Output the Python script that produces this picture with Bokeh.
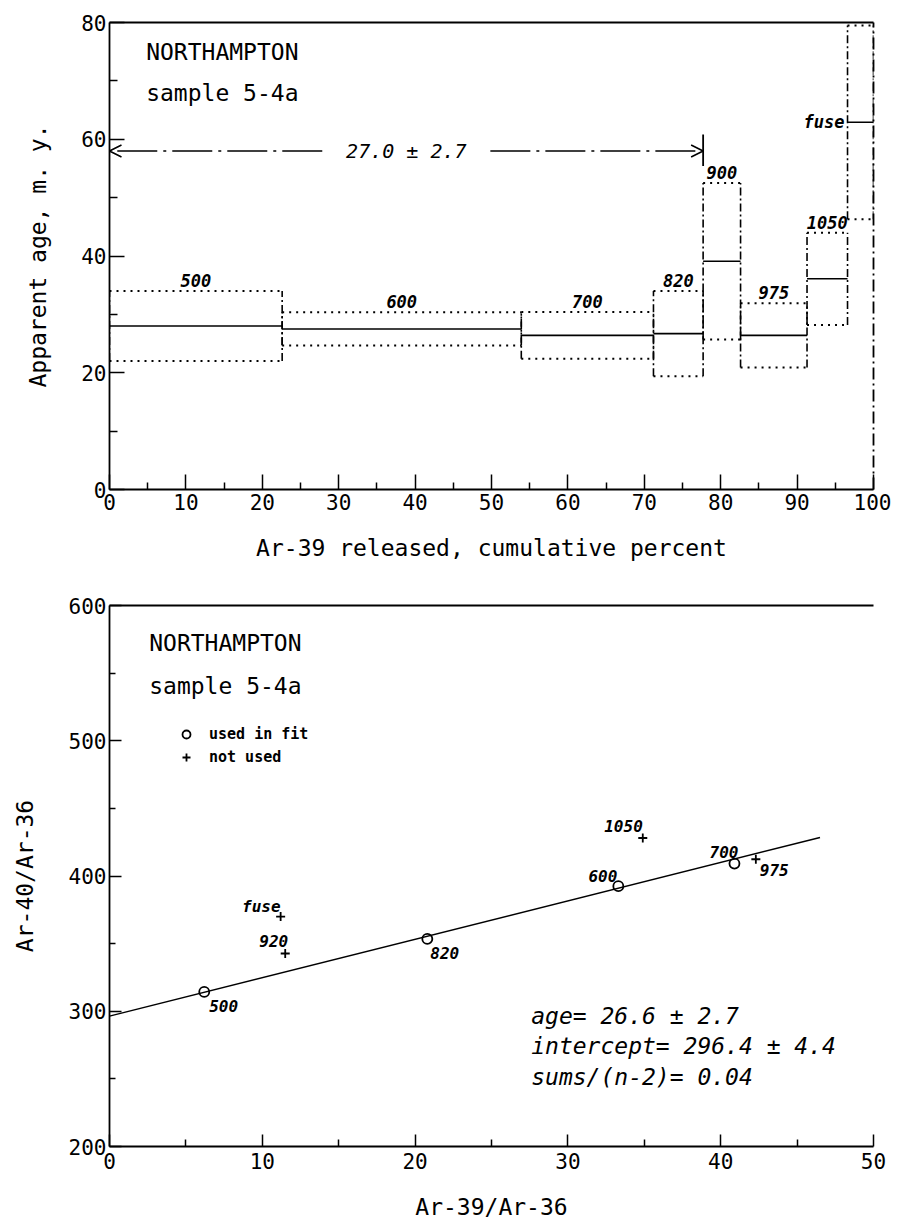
from bokeh.plotting import figure
from bokeh.layouts import column
from bokeh.models import (ColumnDataSource, FixedTicker, LinearAxis, Range1d,
                          Arrow, OpenHead, Label, Legend, LegendItem)
from bokeh.core.properties import value
from bokeh.embed import file_html
from bokeh.resources import INLINE

# ---------------- age spectrum data (upper panel) ----------------
steps = ["500", "600", "700", "820", "900", "975", "1050", "fuse"]
cum_left = [0.0, 22.6, 53.9, 71.2, 77.7, 82.6, 91.3, 96.6]
cum_right = [22.6, 53.9, 71.2, 77.7, 82.6, 91.3, 96.6, 100.0]
age = [28.0, 27.5, 26.4, 26.7, 39.1, 26.4, 36.1, 62.9]
age_err = [6.0, 2.85, 4.0, 7.3, 13.4, 5.5, 7.9, 16.6]
plateau_age = 27.0
plateau_err = 2.7
plateau_from = 0.0
plateau_to = 77.7

# ---------------- isochron data (lower panel) ----------------
used_steps = ["500", "820", "600", "700"]
used_x = [6.2, 20.8, 33.3, 40.9]
used_y = [314.3, 353.5, 392.5, 409.2]
notused_steps = ["975", "1050", "fuse", "920"]
notused_x = [42.3, 34.9, 11.2, 11.5]
notused_y = [412.4, 428.1, 370.0, 342.7]
fit_intercept = 296.4
fit_intercept_err = 4.4
fit_slope = 2.84
fit_x_end = 46.5
iso_age = 26.6
iso_age_err = 2.7
sums = 0.04

MONO = "DejaVu Sans Mono"


def style_axis(ax, tick_in, minor_in, lw=1.8):
    ax.axis_line_color = "black"
    ax.axis_line_width = lw
    ax.major_tick_in = tick_in
    ax.major_tick_out = 0
    ax.minor_tick_in = minor_in
    ax.minor_tick_out = 0
    ax.major_tick_line_width = 1.5
    ax.minor_tick_line_width = 1.5
    ax.major_tick_line_color = "black"
    ax.minor_tick_line_color = "black"
    ax.major_label_text_font = MONO
    ax.major_label_text_font_size = "21px"
    ax.major_label_text_color = "black"
    ax.axis_label_text_font = MONO
    ax.axis_label_text_font_size = "23px"
    ax.axis_label_text_font_style = "normal"
    ax.axis_label_text_color = "black"


def frame_line(p, side, dash="solid"):
    ax = LinearAxis(ticker=FixedTicker(ticks=[]), major_label_text_font_size="0px",
                    axis_line_width=1.8, axis_line_color="black", axis_line_dash=dash,
                    major_tick_line_color=None, minor_tick_line_color=None)
    p.add_layout(ax, side)


# ======================= upper panel =======================
p1 = figure(width=891, height=568, x_range=Range1d(0, 100), y_range=Range1d(0, 80),
            output_backend="svg", toolbar_location=None,
            min_border_left=109, min_border_right=14, min_border_top=22, min_border_bottom=79)
p1.outline_line_color = None
p1.grid.visible = False

p1.xaxis.ticker = FixedTicker(ticks=list(range(0, 101, 10)), minor_ticks=list(range(5, 100, 10)))
p1.yaxis.ticker = FixedTicker(ticks=[0, 20, 40, 60, 80], minor_ticks=[10, 30, 50, 70])
style_axis(p1.xaxis[0], 15, 7)
style_axis(p1.yaxis[0], 15, 8)
p1.xaxis.axis_label = "Ar-39 released, cumulative percent"
p1.yaxis.axis_label = "Apparent age, m. y."
p1.xaxis.major_label_standoff = 4
p1.xaxis.axis_label_standoff = 22
p1.yaxis.major_label_standoff = 3
p1.yaxis.axis_label_standoff = 27
p1.yaxis.major_label_text_baseline = "bottom"
frame_line(p1, "above")
frame_line(p1, "right", dash="12 4 2 4")

lo = [a - e for a, e in zip(age, age_err)]
hi = [a + e for a, e in zip(age, age_err)]
mid = [(l + r) / 2 for l, r in zip(cum_left, cum_right)]
spec = ColumnDataSource(dict(left=cum_left, right=cum_right, age=age, lo=lo, hi=hi,
                             mid=mid, label=steps))

p1.segment(x0="left", y0="hi", x1="right", y1="hi", source=spec,
           line_color="black", line_width=2, line_dash="2 5")
p1.segment(x0="left", y0="lo", x1="right", y1="lo", source=spec,
           line_color="black", line_width=2, line_dash="2 5")
p1.segment(x0="left", y0="lo", x1="left", y1="hi", source=spec,
           line_color="black", line_width=1.6, line_dash="8 3 2 3")
p1.segment(x0="right", y0="lo", x1="right", y1="hi", source=spec,
           line_color="black", line_width=1.6, line_dash="8 3 2 3")
p1.segment(x0="left", y0="age", x1="right", y1="age", source=spec,
           line_color="black", line_width=1.6)

# step labels above each box (the last one, "fuse", sits left of its box)
lab_top = ColumnDataSource(dict(x=mid[:-1], y=hi[:-1], text=steps[:-1]))
p1.text(x="x", y="y", text="text", source=lab_top, y_offset=-4,
        text_align="center", text_baseline="bottom",
        text_font=value(MONO), text_font_size="17px", text_font_style="bold italic",
        text_color="black")
lab_fuse = ColumnDataSource(dict(x=cum_left[-1:], y=age[-1:], text=steps[-1:]))
p1.text(x="x", y="y", text="text", source=lab_fuse, x_offset=-3,
        text_align="right", text_baseline="middle",
        text_font=value(MONO), text_font_size="17px", text_font_style="bold italic",
        text_color="black")

# plateau arrow
arrow_y = 58.0
half_gap = 11.0
plateau_mid = (plateau_from + plateau_to) / 2
p1.add_layout(Arrow(end=OpenHead(size=12, line_width=1.6, line_color="black"),
                    x_start=plateau_mid - half_gap, y_start=arrow_y,
                    x_end=plateau_from, y_end=arrow_y,
                    line_width=1.6, line_color="black", line_dash="40 6 3 6"))
p1.add_layout(Arrow(end=OpenHead(size=12, line_width=1.6, line_color="black"),
                    x_start=plateau_mid + half_gap, y_start=arrow_y,
                    x_end=plateau_to, y_end=arrow_y,
                    line_width=1.6, line_color="black", line_dash="40 6 3 6"))
p1.segment(x0=[plateau_to], y0=[arrow_y - 2.6], x1=[plateau_to], y1=[arrow_y + 2.8],
           line_color="black", line_width=1.8)
p1.add_layout(Label(x=plateau_mid, y=arrow_y, text=f"{plateau_age:.1f} ± {plateau_err:.1f}",
                    text_align="center", text_baseline="middle",
                    text_font=MONO, text_font_size="20px", text_font_style="italic",
                    text_color="black"))

p1.add_layout(Label(x=4.8, y=74.9, text="NORTHAMPTON", text_baseline="middle",
                    text_font=MONO, text_font_size="23px", text_color="black"))
p1.add_layout(Label(x=4.8, y=67.9, text="sample 5-4a", text_baseline="middle",
                    text_font=MONO, text_font_size="23px", text_color="black"))

# ======================= lower panel =======================
p2 = figure(width=891, height=654, x_range=Range1d(0, 50), y_range=Range1d(200, 600),
            output_backend="svg", toolbar_location=None,
            min_border_left=105, min_border_right=18, min_border_top=37, min_border_bottom=73)
p2.outline_line_color = None
p2.grid.visible = False

p2.xaxis.ticker = FixedTicker(ticks=list(range(0, 51, 10)), minor_ticks=list(range(5, 50, 10)))
p2.yaxis.ticker = FixedTicker(ticks=[200, 300, 400, 500, 600], minor_ticks=[250, 350, 450, 550])
style_axis(p2.xaxis[0], 12, 7)
style_axis(p2.yaxis[0], 12, 6)
p2.xaxis.axis_label = "Ar-39/Ar-36"
p2.yaxis.axis_label = "Ar-40/Ar-36"
p2.xaxis.major_label_standoff = 6
p2.xaxis.axis_label_standoff = 22
p2.yaxis.major_label_standoff = 3
p2.yaxis.axis_label_standoff = 28
p2.yaxis.major_label_text_baseline = "bottom"
frame_line(p2, "above")

fit_x = [0.0, fit_x_end]
fit_y = [fit_intercept + fit_slope * x for x in fit_x]
p2.line(fit_x, fit_y, line_color="black", line_width=1.5)

used_src = ColumnDataSource(dict(x=used_x, y=used_y, text=used_steps))
notused_src = ColumnDataSource(dict(x=notused_x, y=notused_y, text=notused_steps))
r_used = p2.scatter(x="x", y="y", source=used_src, marker="circle", size=10,
                    fill_color=None, line_color="black", line_width=1.8)
r_not = p2.scatter(x="x", y="y", source=notused_src, marker="cross", size=9,
                   line_color="black", line_width=1.8)

# step labels next to the points: (x offset px, y offset px, align)
label_place = {
    "500": (5, 14, "left"), "820": (3, 14, "left"), "600": (-1, -10, "right"),
    "700": (4, -12, "right"), "975": (4, 11, "left"), "1050": (0, -12, "right"),
    "fuse": (0, -10, "right"), "920": (3, -12, "right"),
}
for src in (used_src, notused_src):
    d = src.data
    for xv, yv, t in zip(d["x"], d["y"], d["text"]):
        dx, dy, al = label_place[t]
        p2.text(x=[xv], y=[yv], text=[t], x_offset=dx, y_offset=dy,
                text_align=al, text_baseline="middle",
                text_font=value(MONO), text_font_size="16px",
                text_font_style="bold italic", text_color="black")

legend = Legend(items=[LegendItem(label="used in fit", renderers=[r_used]),
                       LegendItem(label="not used", renderers=[r_not])],
                location=(67, 379), margin=0, padding=0, spacing=3,
                glyph_width=20, glyph_height=20, label_standoff=13, label_height=20,
                label_text_font=MONO, label_text_font_size="15px",
                label_text_font_style="bold", label_text_color="black",
                background_fill_alpha=0, border_line_color=None)
p2.add_layout(legend)

p2.add_layout(Label(x=2.6, y=572.3, text="NORTHAMPTON", text_baseline="middle",
                    text_font=MONO, text_font_size="23px", text_color="black"))
p2.add_layout(Label(x=2.6, y=540.7, text="sample 5-4a", text_baseline="middle",
                    text_font=MONO, text_font_size="23px", text_color="black"))

stats = [f"age= {iso_age:.1f} ± {iso_age_err:.1f}",
         f"intercept= {fit_intercept:.1f} ± {fit_intercept_err:.1f}",
         f"sums/(n-2)= {sums:.2f}"]
for i, s in enumerate(stats):
    p2.add_layout(Label(x=27.6, y=296.6 - 22.5 * i, text=s, text_baseline="middle",
                        text_font=MONO, text_font_size="23px", text_font_style="italic",
                        text_color="black"))

layout = column(p1, p2, spacing=0)
open("out.html", "w").write(file_html(layout, INLINE))
